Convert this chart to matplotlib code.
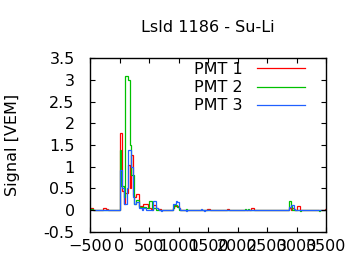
import numpy as np
import matplotlib
matplotlib.use("Agg")
import matplotlib.pyplot as plt

# FADC trace, 25 ns bins; only bins that differ from zero are listed
bin_width = 25
t_start, t_stop = -500, 3500

pmt1_t = [-500, -475, -275, -250, -225, 0, 25, 50, 75, 100, 125, 150, 175, 200, 225,
          250, 275, 300, 325, 350, 375, 400, 425, 450, 475, 500, 525, 575, 600, 625,
          650, 675, 900, 925, 950, 975, 1000, 1475, 1500, 1825, 2225, 2250, 2875,
          2925, 3000, 3025, 3475]
pmt1_v = [0.04, 0.04, 0.04, 0.04, 0.03, 1.78, 1.78, 0.45, 0.15, 0.4, 0.4, 1.05, 0.5, 1.27, 0.35,
          0.3, 0.37, 0.37, 0.1, 0.1, 0.05, 0.14, 0.14, 0.14, 0.05, 0.05, 0.03, 0.12, 0.12, 0.05,
          0.03, 0.03, 0.05, 0.1, 0.1, 0.1, 0.05, 0.03, 0.03, 0.03, 0.05, 0.05, 0.05,
          0.06, 0.1, 0.1, 0.03]

pmt2_t = [-500, -475, -300, 0, 25, 50, 75, 100, 125, 150, 175, 200, 225, 250, 275,
          300, 325, 350, 375, 400, 425, 450, 475, 500, 525, 550, 575, 600, 900, 925,
          950, 975, 1125, 1500, 2125, 2175, 2875, 2900, 3050, 3375]
pmt2_v = [0.03, 0.02, 0.01, 1.38, 0.55, 0.55, 0.3, 3.09, 3.09, 3.0, 1.5, 0.82, 0.82, 0.15, 0.24,
          0.24, 0.08, 0.08, 0.08, 0.08, 0.08, 0.05, 0.05, 0.22, 0.22, 0.05, 0.05, 0.05, 0.05, 0.12,
          0.12, 0.08, 0.03, 0.01, 0.03, 0.02, 0.21, 0.1, -0.03, -0.03]

pmt3_t = [0, 25, 50, 75, 100, 125, 150, 175, 200, 225, 250, 275, 300, 325, 350,
          400, 425, 575, 600, 625, 650, 700, 900, 925, 950, 975, 1000, 1125, 1375,
          1425, 2875, 2900, 2925, 2950]
pmt3_v = [0.93, 0.93, 0.5, 0.15, 0.15, 0.5, 1.39, 1.39, 1.0, 0.3, 0.15, 0.2, 0.2, 0.04, 0.04,
          0.04, 0.04, 0.22, 0.22, 0.05, 0.02, -0.02, 0.14, 0.14, 0.22, 0.2, 0.05, -0.03, 0.02,
          -0.02, 0.08, 0.13, 0.13, 0.03]

labels = ["PMT 1", "PMT 2", "PMT 3"]
colors = ["#ff0000", "#00c000", "#2060ff"]

edges = np.arange(t_start, t_stop + bin_width, bin_width)


def to_trace(times, vals):
    trace = np.zeros(len(edges) - 1)
    for t, v in zip(times, vals):
        trace[(t - t_start) // bin_width] = v
    return trace


plt.rcParams['font.family'] = ['DejaVu Sans']
fs = 11.5
fig = plt.figure(figsize=(3.6, 2.7), dpi=100)
ax = fig.add_axes([0.25, 0.141, 0.656, 0.644])

for (tt, vv), lab, col in zip([(pmt1_t, pmt1_v), (pmt2_t, pmt2_v), (pmt3_t, pmt3_v)],
                             labels, colors):
    ax.stairs(to_trace(tt, vv), edges, color=col, lw=0.9, label=lab)

ax.set_xlim(-500, 3500)
ax.set_ylim(-0.5, 3.5)
ax.set_xticks(np.arange(-500, 3501, 500))
ax.set_yticks(np.arange(-0.5, 3.51, 0.5))
ax.set_yticklabels(["-0.5", "0", "0.5", "1", "1.5", "2", "2.5", "3", "3.5"])
ax.tick_params(direction='in', length=3.5, width=0.8, top=True, right=True,
               labelsize=fs)
ax.tick_params(axis='x', pad=5)
ax.tick_params(axis='y', pad=11)
for s in ax.spines.values():
    s.set_linewidth(1.0)

ax.set_title("LsId 1186 - Su-Li", fontsize=fs, pad=19)
ax.set_ylabel("Signal [VEM]", fontsize=fs, labelpad=17)

ax.legend(loc='upper right', frameon=False, markerfirst=False, fontsize=fs,
          handlelength=3.0, handletextpad=0.9, labelspacing=0.2,
          bbox_to_anchor=(0.97, 1.06))

fig.savefig("out.png", dpi=100)
